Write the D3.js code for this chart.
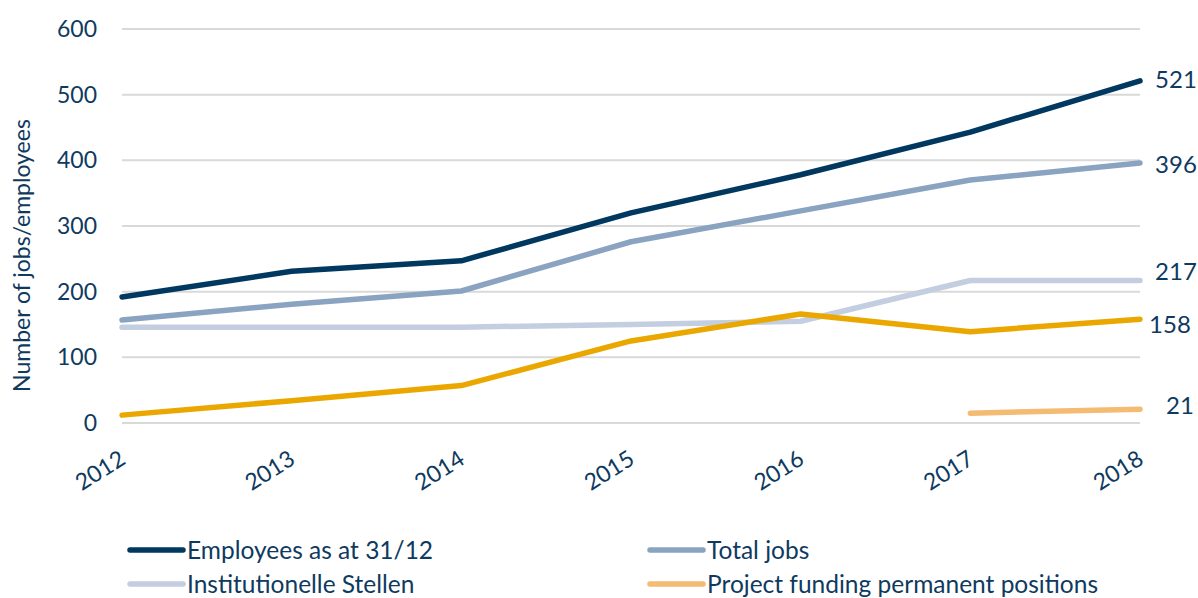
<!DOCTYPE html>
<html>
<head>
<meta charset="utf-8">
<script src="https://cdn.jsdelivr.net/npm/d3@7"></script>
<style>
  body { margin: 0; background: #fff; }
  svg { display: block; font-family: Lato, "Open Sans", sans-serif; }
  .grid line { stroke: #d9d9d9; stroke-width: 2; }
  .txt { fill: #0f3a60; }
</style>
</head>
<body>
<svg id="chart"></svg>
<script>
// data
let years = ["2012", "2013", "2014", "2015", "2016", "2017", "2018"];
let employees = [192, 231, 247, 320, 378, 443, 521];
let totalJobs = [157, 181, 201, 276, 323, 370, 396];
let institutional = [146, 146, 146, 150, 155, 217, 217];
let projectFunding = [12, 34, 57, 125, 166, 139, 158];
let projectPermanent = [null, null, null, null, null, 15, 21];
let yTicks = [0, 100, 200, 300, 400, 500, 600];

let series = [
  { name: "Institutionelle Stellen", values: institutional, color: "#c3cee0", legend: true, dy: -9, dx: 0 },
  { name: "Total jobs", values: totalJobs, color: "#8aa3c0", legend: true, dy: 2, dx: 0 },
  { name: "Employees as at 31/12", values: employees, color: "#00385f", legend: true, dy: -1, dx: 0 },
  { name: "Project funding", values: projectFunding, color: "#eaa700", legend: false, dy: 5, dx: -6 },
  { name: "Project funding permanent positions", values: projectPermanent, color: "#f4bb72", legend: true, dy: -4, dx: 4 }
];

let legendOrder = ["Employees as at 31/12", "Total jobs", "Institutionelle Stellen", "Project funding permanent positions"];

let width = 1198, height = 598;
let margin = { top: 29, left: 122, right: 58, bottom: 175 };

let svg = d3.select("#chart").attr("width", width).attr("height", height);

let x = d3.scalePoint().domain(years).range([margin.left, width - margin.right]);
let y = d3.scaleLinear().domain([0, 600]).range([height - margin.bottom, margin.top]);

// gridlines
svg.append("g").attr("class", "grid")
  .selectAll("line").data(yTicks).enter().append("line")
  .attr("x1", margin.left).attr("x2", width - margin.right)
  .attr("y1", d => y(d)).attr("y2", d => y(d));

// y axis labels
svg.append("g").selectAll("text").data(yTicks).enter().append("text")
  .attr("class", "txt")
  .attr("x", 97).attr("y", d => y(d))
  .attr("dy", "0.35em")
  .attr("text-anchor", "end")
  .style("font-size", "23px")
  .text(d => d);

svg.append("text")
  .attr("class", "txt")
  .attr("transform", "translate(30," + y(255) + ") rotate(-90)")
  .attr("text-anchor", "middle")
  .style("font-size", "23px")
  .text("Number of jobs/employees");

// x axis labels, rotated
svg.append("g").selectAll("text").data(years).enter().append("text")
  .attr("class", "txt")
  .attr("transform", d => "translate(" + (x(d) + 5) + "," + (y(0) + 40) + ") rotate(-32)")
  .attr("text-anchor", "end")
  .style("font-size", "23px")
  .text(d => d);

// lines
let line = d3.line()
  .defined(d => d.v != null)
  .x(d => x(d.year))
  .y(d => y(d.v));

series.forEach(function(s){
  let pts = years.map((yr, i) => ({ year: yr, v: s.values[i] }));
  svg.append("path")
    .datum(pts)
    .attr("fill", "none")
    .attr("stroke", s.color)
    .attr("stroke-width", 5.5)
    .attr("stroke-linecap", "round")
    .attr("stroke-linejoin", "round")
    .attr("d", line);

  let last = s.values[s.values.length - 1];
  svg.append("text")
    .attr("class", "txt")
    .attr("x", x(years[years.length - 1]) + 36 + s.dx)
    .attr("y", y(last) + s.dy)
    .attr("dy", "0.35em")
    .attr("text-anchor", "middle")
    .style("font-size", "24px")
    .text(last);
});

// legend
let legend = svg.append("g");
legendOrder.forEach(function(name, i){
  let s = series.find(d => d.name == name);
  let col = i % 2, row = Math.floor(i / 2);
  let lx = 130 + col * 520, ly = 550 + row * 34;
  legend.append("line")
    .attr("x1", lx).attr("x2", lx + 53)
    .attr("y1", ly).attr("y2", ly)
    .attr("stroke", s.color).attr("stroke-width", 5.5)
    .attr("stroke-linecap", "round");
  legend.append("text")
    .attr("class", "txt")
    .attr("x", lx + 57).attr("y", ly)
    .attr("dy", "0.35em")
    .style("font-size", "24.5px")
    .text(name);
});
</script>
</body>
</html>
